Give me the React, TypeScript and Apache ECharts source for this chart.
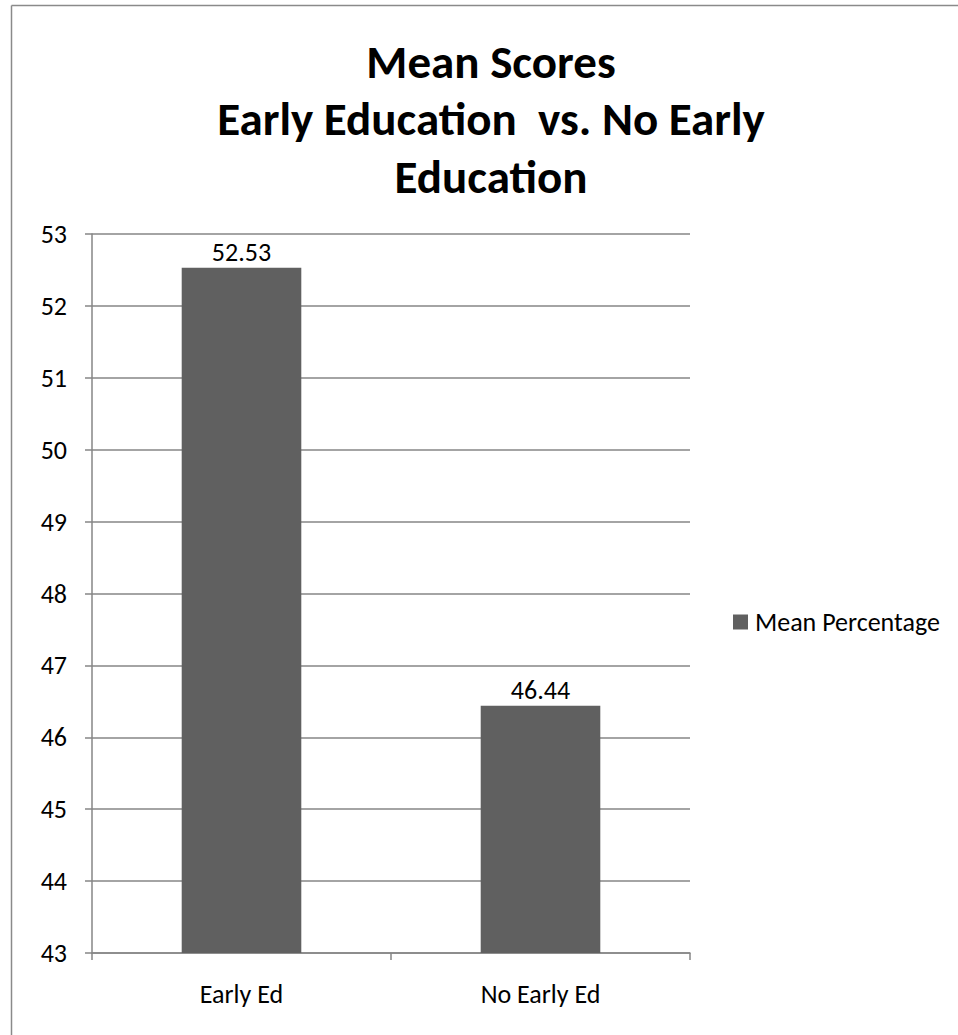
import React, { useEffect, useRef } from "react";
import * as echarts from "echarts";

const titleLines = ["Mean Scores", "Early Education  vs. No Early", "Education"];
const categories = ["Early Ed", "No Early Ed"];
const seriesName = "Mean Percentage";
const meanValues = [52.53, 46.44];
const yMin = 43;
const yMax = 53;
const yStep = 1;

const FONT = "Carlito, Calibri, Lato, sans-serif";

export default function App() {
  const ref = useRef<HTMLDivElement>(null);
  useEffect(() => {
    if (!ref.current) return;
    const chart = echarts.init(ref.current, undefined, { renderer: "svg" });
    chart.setOption({
      animation: false,
      backgroundColor: "#ffffff",
      textStyle: { fontFamily: FONT },
      title: {
        text: titleLines.join("\n"),
        left: 491,
        textAlign: "center",
        top: 33,
        padding: 0,
        textStyle: {
          fontFamily: FONT,
          fontSize: 47,
          fontWeight: "bold",
          color: "#000",
          lineHeight: 57.5,
        },
      },
      legend: {
        data: [seriesName],
        orient: "vertical",
        left: 733,
        top: 609,
        padding: 0,
        itemWidth: 15,
        itemHeight: 15,
        itemGap: 6,
        icon: "rect",
        textStyle: { fontFamily: FONT, fontSize: 26, color: "#000", padding: [0, 0, 0, 2] },
      },
      grid: { left: 92, top: 234, right: 268, bottom: 82, containLabel: false },
      xAxis: {
        type: "category",
        data: categories,
        axisLine: { lineStyle: { color: "#868686", width: 1.5 } },
        axisTick: { show: true, length: 7, lineStyle: { color: "#868686", width: 1.5 } },
        axisLabel: { color: "#000", fontSize: 26, fontFamily: FONT, margin: 28 },
      },
      yAxis: {
        type: "value",
        min: yMin,
        max: yMax,
        interval: yStep,
        axisLine: { show: true, lineStyle: { color: "#868686", width: 1.5 } },
        axisTick: { show: true, length: 7, lineStyle: { color: "#868686", width: 1.5 } },
        axisLabel: { color: "#000", fontSize: 26, fontFamily: FONT, margin: 25 },
        splitLine: { lineStyle: { color: "#868686", width: 1.5 } },
      },
      series: [
        {
          name: seriesName,
          type: "bar",
          data: meanValues,
          barWidth: "40%",
          itemStyle: { color: "#606060" },
          label: {
            show: true,
            position: "top",
            distance: 3,
            color: "#000",
            fontSize: 26,
            fontFamily: FONT,
            formatter: (p: any) => p.value.toFixed(2),
          },
        },
      ],
      graphic: [
        {
          type: "line",
          shape: { x1: 11.5, y1: 5.5, x2: 11.5, y2: 1035 },
          style: { stroke: "#8a8a8a", lineWidth: 1.5 },
        },
        {
          type: "line",
          shape: { x1: 11.5, y1: 5.5, x2: 958, y2: 5.5 },
          style: { stroke: "#8a8a8a", lineWidth: 1.5 },
        },
      ],
    });
    return () => chart.dispose();
  }, []);
  return (
    <div
      ref={ref}
      style={{ position: "absolute", left: 0, top: 0, width: 958, height: 1035 }}
    />
  );
}
